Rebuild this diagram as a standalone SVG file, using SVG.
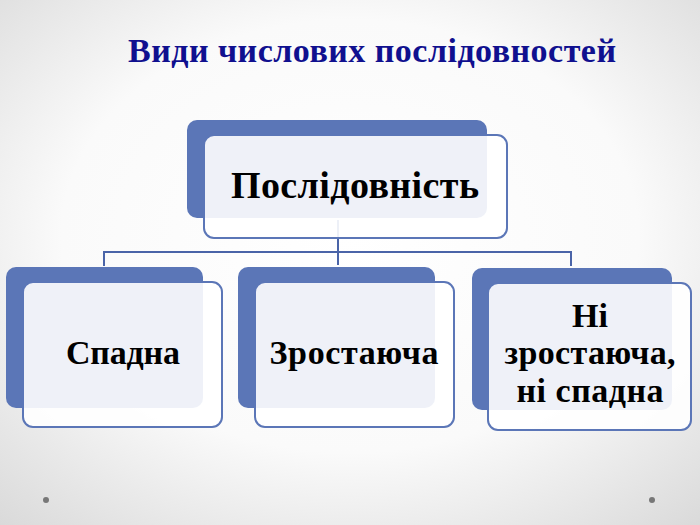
<svg xmlns="http://www.w3.org/2000/svg" width="700" height="525" viewBox="0 0 700 525">
<defs>
<radialGradient id="bg" cx="0.5" cy="0.45" r="0.75">
<stop offset="0" stop-color="#ffffff"/>
<stop offset="0.55" stop-color="#fafafa"/>
<stop offset="1" stop-color="#d9d9d9"/>
</radialGradient>
</defs>
<style>
.back{fill:#5b76b7;}
.front{fill:#ffffff;fill-opacity:0.9;stroke:#5b76b7;stroke-width:2;}
.con{stroke:#4a64a8;stroke-width:2;fill:none;}
.lbl{font-family:"Liberation Serif","DejaVu Serif",serif;font-weight:bold;fill:#000;text-anchor:middle;}
.title{font-family:"Liberation Serif","Times New Roman",serif;font-weight:bold;fill:#10108f;font-size:34px;text-anchor:middle;}
.dot{fill:#777;}
</style>
<rect width="700" height="525" fill="url(#bg)"/>
<text class="title" x="372" y="62" textLength="488">Види числових послідовностей</text>
<g id="connectors">
<line class="con" x1="338" y1="220" x2="338" y2="265"/>
<line class="con" x1="104" y1="252" x2="571" y2="252"/>
<line class="con" x1="104" y1="251" x2="104" y2="266"/>
<line class="con" x1="571" y1="251" x2="571" y2="266"/>
</g>
<g id="node-top">
<rect class="back" x="187" y="120" width="300" height="98" rx="10"/>
<rect class="front" x="204" y="135" width="303" height="103" rx="10"/>
<text class="lbl" x="355" y="198" font-size="38" textLength="248">Послідовність</text>
</g>
<g id="node-left">
<rect class="back" x="6" y="267" width="197" height="141" rx="10"/>
<rect class="front" x="23" y="282" width="199" height="145" rx="10"/>
<text class="lbl" x="123" y="364" font-size="34" textLength="114">Спадна</text>
</g>
<g id="node-middle">
<rect class="back" x="238" y="267" width="197" height="141" rx="10"/>
<rect class="front" x="255" y="282" width="199" height="145" rx="10"/>
<text class="lbl" x="354" y="364" font-size="34" textLength="169">Зростаюча</text>
</g>
<g id="node-right">
<rect class="back" x="472" y="268" width="200" height="142" rx="10"/>
<rect class="front" x="488" y="283" width="203" height="147" rx="10"/>
<text class="lbl" x="590" y="327" font-size="34">Ні</text>
<text class="lbl" x="590" y="364" font-size="34" textLength="171">зростаюча,</text>
<text class="lbl" x="590" y="402" font-size="34" textLength="147">ні спадна</text>
</g>
<circle class="dot" cx="46" cy="500" r="3"/>
<circle class="dot" cx="652" cy="500" r="3"/>
</svg>
